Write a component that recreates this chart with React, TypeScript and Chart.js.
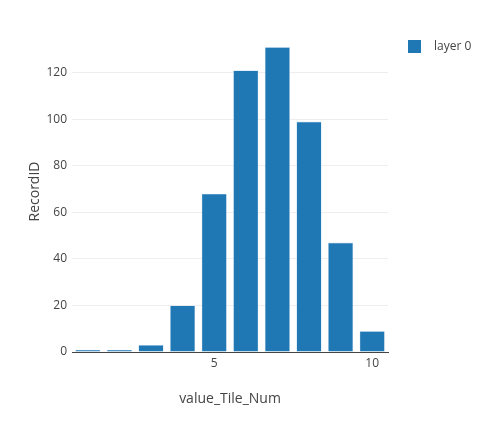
import React, { useEffect, useRef } from "react";
import { Chart, registerables } from "chart.js";

Chart.register(...registerables);

const tileNums = [1, 2, 3, 4, 5, 6, 7, 8, 9, 10];
const recordCounts = [1, 1, 3, 20, 68, 121, 131, 99, 47, 9];
const xTickValues = [5, 10];
const seriesLabel = "layer 0";
const xTitle = "value_Tile_Num";
const yTitle = "RecordID";

const FONT = "'Open Sans', 'DejaVu Sans', sans-serif";
const TEXT = "#444";

const legendPlugin = {
  id: "plotlyLegend",
  afterDraw(chart: any) {
    const ctx = chart.ctx;
    const ds = chart.data.datasets[0];
    ctx.save();
    ctx.fillStyle = ds.backgroundColor;
    ctx.fillRect(408, 40, 13, 13);
    ctx.fillStyle = TEXT;
    ctx.font = `12px ${FONT}`;
    ctx.textBaseline = "middle";
    ctx.textAlign = "left";
    ctx.fillText(ds.label, 434, 47);
    ctx.restore();
  },
};

export default function App() {
  const ref = useRef<HTMLCanvasElement>(null);
  useEffect(() => {
    if (!ref.current) return;
    const chart = new Chart(ref.current, {
      type: "bar",
      data: {
        datasets: [
          {
            label: seriesLabel,
            data: tileNums.map((x, i) => ({ x, y: recordCounts[i] })),
            backgroundColor: "#1f77b4",
            borderColor: "rgba(200,222,242,0.9)",
            borderWidth: 0.6,
            barPercentage: 1,
            categoryPercentage: 0.8,
          },
        ],
      },
      options: {
        animation: false,
        responsive: false,
        maintainAspectRatio: false,
        devicePixelRatio: 1,
        layout: { padding: { top: 31, right: 110, left: 0, bottom: 0 } },
        plugins: { legend: { display: false }, tooltip: { enabled: false } },
        scales: {
          x: {
            type: "linear",
            min: 0.5,
            max: 10.5,
            offset: false,
            afterBuildTicks: (s: any) => {
              s.ticks = xTickValues.map((v) => ({ value: v }));
            },
            afterFit: (s: any) => {
              s.height = 71;
            },
            grid: { display: false, drawTicks: false },
            border: { display: true, color: TEXT, width: 1 },
            ticks: { color: TEXT, font: { family: FONT, size: 12 }, padding: 4, maxRotation: 0 },
            title: {
              display: true,
              text: xTitle,
              color: TEXT,
              font: { family: FONT, size: 14 },
              padding: 16,
            },
          },
          y: {
            min: 0,
            max: 137.9,
            afterFit: (s: any) => {
              s.width = 72;
            },
            grid: { color: "#eee", drawTicks: false },
            border: { display: false },
            ticks: {
              stepSize: 20,
              includeBounds: false,
              color: TEXT,
              font: { family: FONT, size: 12 },
              padding: 5,
            },
            title: {
              display: true,
              text: yTitle,
              color: TEXT,
              font: { family: FONT, size: 14 },
              padding: 27,
            },
          },
        },
      },
      plugins: [legendPlugin],
    });
    return () => chart.destroy();
  }, []);
  return (
    <div style={{ position: "fixed", left: 0, top: 0, width: 498, height: 423, background: "#fff" }}>
      <canvas ref={ref} width={498} height={423} style={{ display: "block" }} />
    </div>
  );
}
